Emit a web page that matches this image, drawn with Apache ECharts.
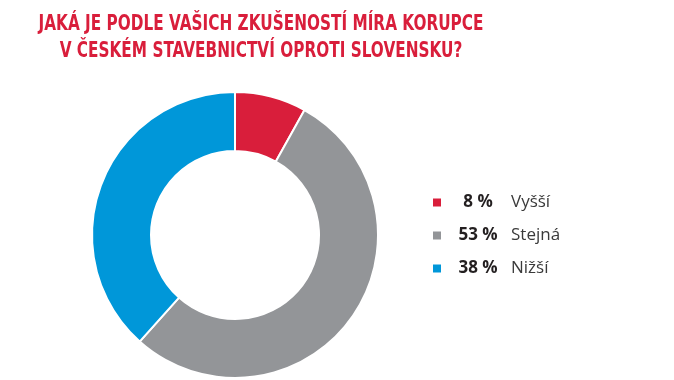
<!DOCTYPE html>
<html><head><meta charset="utf-8">
<script src="https://cdn.jsdelivr.net/npm/echarts@6/dist/echarts.min.js"></script>
<style>html,body{margin:0;padding:0;background:#fff}#c{width:674px;height:380px}</style>
</head><body><div id="c"></div>
<script>
const titleText = 'JAKÁ JE PODLE VAŠICH ZKUŠENOSTÍ MÍRA KORUPCE\nV ČESKÉM STAVEBNICTVÍ OPROTI SLOVENSKU?';
const categories = ['Vyšší', 'Stejná', 'Nižší'];
const values = [8, 53, 38];
const colors = ['#d91e3b', '#939598', '#0097d9'];

const chart = echarts.init(document.getElementById('c'));
chart.setOption({
  animation: false,
  graphic: [{
    type: 'text',
    x: 261, y: 11,
    scaleX: 0.81,
    scaleY: 1.04,
    style: {
      text: titleText,
      font: "bold 21px 'DejaVu Sans Condensed','Liberation Sans Narrow',sans-serif",
      fill: '#d91e3b',
      align: 'center',
      verticalAlign: 'top',
      lineHeight: 26
    }
  }],
  color: colors,
  legend: {
    orient: 'vertical', left: 426, top: 189,
    itemWidth: 10, itemHeight: 10, itemGap: 16, icon: 'rect',
    data: categories,
    formatter: function (name) {
      const i = categories.indexOf(name);
      return '{v|' + values[i] + ' %}{n|' + name + '}';
    },
    textStyle: {
      rich: {
        v: { fontFamily: "'Open Sans',sans-serif", fontWeight: 'bold', fontSize: 17, color: '#231f20', width: 62, align: 'right' },
        n: { fontFamily: "'Open Sans',sans-serif", fontSize: 17, color: '#3a3a3a', padding: [0, 0, 0, 2] }
      }
    }
  },
  series: [{
    type: 'pie',
    center: [235, 235],
    radius: [84, 143],
    startAngle: 90,
    clockwise: true,
    label: { show: false },
    labelLine: { show: false },
    emphasis: { disabled: true },
    itemStyle: { borderColor: '#fff', borderWidth: 2 },
    data: categories.map((c, i) => ({ name: c, value: values[i] }))
  }]
});
</script></body></html>
